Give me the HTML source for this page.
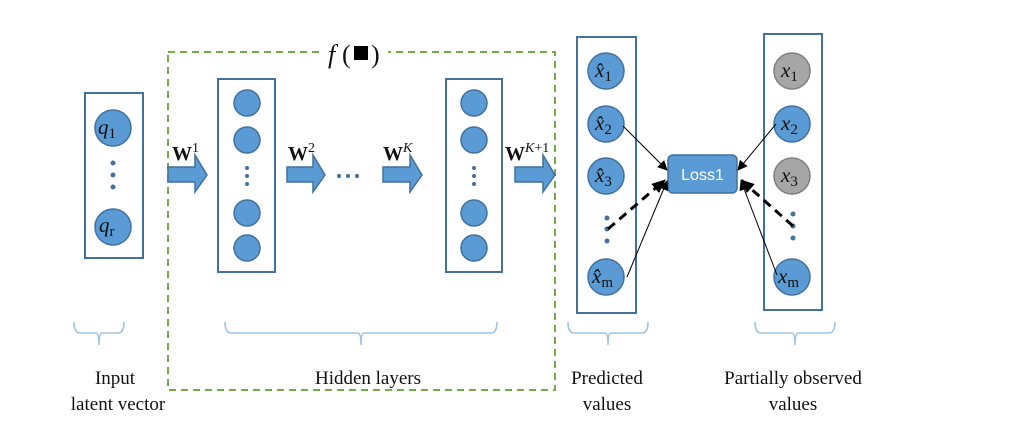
<!DOCTYPE html>
<html><head><meta charset="utf-8"><style>
html,body{margin:0;padding:0;background:#fff;}
svg{display:block;}
.m{font-family:"Liberation Serif",serif;font-style:italic;font-size:21px;fill:#111;}
.s{font-family:"Liberation Serif",serif;font-style:normal;font-size:15px;fill:#111;}
.w{font-family:"Liberation Serif",serif;font-weight:bold;font-size:20px;fill:#111;}
.lab{font-family:"Liberation Serif",serif;font-size:19px;fill:#111;}
</style></head><body>
<svg width="1014" height="430" viewBox="0 0 1014 430" xmlns="http://www.w3.org/2000/svg">
<defs>
<marker id="ah" markerWidth="10" markerHeight="10" refX="9" refY="5" orient="auto" markerUnits="userSpaceOnUse">
<path d="M0,0 L10,5 L0,10 z" fill="#000"/></marker>
<marker id="ah2" markerWidth="14" markerHeight="12" refX="13" refY="6" orient="auto" markerUnits="userSpaceOnUse">
<path d="M0,0 L14,6 L0,12 z" fill="#000"/></marker>
</defs>
<g fill="none" stroke="#41719c" stroke-width="2">
<rect x="85" y="93" width="58" height="165"/>
<rect x="218" y="79" width="57" height="193"/>
<rect x="446" y="79" width="56" height="193"/>
<rect x="577" y="37" width="59" height="276"/>
<rect x="764" y="34" width="58" height="276"/>
</g>
<rect x="168" y="52" width="387" height="338" fill="none" stroke="#70ad47" stroke-width="2" stroke-dasharray="7,5"/>
<rect x="324" y="40" width="64" height="28" fill="#fff"/>
<text x="328" y="63" font-family="Liberation Serif,serif" font-style="italic" font-size="26" fill="#111">f</text>
<text x="342" y="63" font-family="Liberation Serif,serif" font-size="26" fill="#111">(</text>
<rect x="354" y="46" width="14" height="14" fill="#000"/>
<text x="371" y="63" font-family="Liberation Serif,serif" font-size="26" fill="#111">)</text>
<g fill="#5b9bd5" stroke="#41719c" stroke-width="1.5">
<circle cx="113" cy="128" r="18"/><circle cx="113" cy="227" r="18"/>
<circle cx="247" cy="103" r="13"/><circle cx="247" cy="140" r="13"/><circle cx="247" cy="213" r="13"/><circle cx="247" cy="248" r="13"/>
<circle cx="474" cy="103" r="13"/><circle cx="474" cy="140" r="13"/><circle cx="474" cy="213" r="13"/><circle cx="474" cy="248" r="13"/>
<circle cx="606" cy="71" r="18"/><circle cx="606" cy="124" r="18"/><circle cx="606" cy="176" r="18"/><circle cx="606" cy="277" r="18"/>
<circle cx="792" cy="124" r="18"/><circle cx="792" cy="277" r="18"/>
</g>
<g fill="#a6a6a6" stroke="#7f7f7f" stroke-width="1.5">
<circle cx="792" cy="71" r="18"/><circle cx="792" cy="176" r="18"/>
</g>
<g fill="#41719c">
<circle cx="113" cy="163" r="2.5"/><circle cx="113" cy="175" r="2.5"/><circle cx="113" cy="187" r="2.5"/>
<circle cx="247" cy="168" r="2"/><circle cx="247" cy="176" r="2"/><circle cx="247" cy="184" r="2"/>
<circle cx="474" cy="168" r="2"/><circle cx="474" cy="176" r="2"/><circle cx="474" cy="184" r="2"/>
<circle cx="339" cy="176" r="2"/><circle cx="348" cy="176" r="2"/><circle cx="357" cy="176" r="2"/>
<circle cx="607" cy="218" r="2.5"/><circle cx="607" cy="229" r="2.5"/><circle cx="607" cy="241" r="2.5"/>
<circle cx="793" cy="214" r="2.5"/><circle cx="793" cy="226" r="2.5"/><circle cx="793" cy="238" r="2.5"/>
</g>
<text class="m" x="98" y="134">q<tspan class="s" dy="4">1</tspan></text>
<text class="m" x="99" y="232">q<tspan class="s" dy="4">r</tspan></text>
<g class="m">
<text x="595" y="77">x̂<tspan class="s" dy="4">1</tspan></text>
<text x="595" y="130">x̂<tspan class="s" dy="4">2</tspan></text>
<text x="595" y="182">x̂<tspan class="s" dy="4">3</tspan></text>
<text x="592" y="283">x̂<tspan class="s" dy="4">m</tspan></text>
<text x="781" y="77">x<tspan class="s" dy="4">1</tspan></text>
<text x="781" y="130">x<tspan class="s" dy="4">2</tspan></text>
<text x="781" y="182">x<tspan class="s" dy="4">3</tspan></text>
<text x="778" y="283">x<tspan class="s" dy="4">m</tspan></text>
</g>
<g fill="#5b9bd5" stroke="#41719c" stroke-width="1.5">
<path d="M168,167 H195 V155 L207,175 L195,192 V182 H168 Z"/>
<path d="M287,167 H313 V155 L325,175 L313,192 V182 H287 Z"/>
<path d="M383,167 H410 V155 L422,175 L410,192 V182 H383 Z"/>
<path d="M515,167 H543 V155 L555,175 L543,192 V182 H515 Z"/>
</g>
<text class="w" x="172" y="160">W<tspan font-size="14" font-weight="normal" dy="-8">1</tspan></text>
<text class="w" x="288" y="160">W<tspan font-size="14" font-weight="normal" dy="-8">2</tspan></text>
<text class="w" x="383" y="160">W<tspan font-size="14" font-style="italic" font-weight="normal" dy="-8">K</tspan></text>
<text class="w" x="505" y="160">W<tspan font-size="14" font-weight="normal" dy="-8"><tspan font-style="italic">K</tspan>+1</tspan></text>
<rect x="668" y="155" width="69" height="38" rx="5" fill="#5b9bd5" stroke="#41719c" stroke-width="1.5"/>
<text x="702.5" y="180" text-anchor="middle" font-family="Liberation Sans,sans-serif" font-size="16" fill="#fff">Loss1</text>
<g stroke="#000" stroke-width="1">
<line x1="623" y1="126" x2="667" y2="170" marker-end="url(#ah)"/>
<line x1="627" y1="277" x2="667" y2="181" marker-end="url(#ah)"/>
<line x1="776" y1="124" x2="738" y2="170" marker-end="url(#ah)"/>
<line x1="777" y1="275" x2="741" y2="181" marker-end="url(#ah)"/>
</g>
<g stroke="#000" stroke-width="3" stroke-dasharray="9,6">
<line x1="608" y1="229" x2="665" y2="180" marker-end="url(#ah2)"/>
<line x1="793" y1="226" x2="741" y2="180" marker-end="url(#ah2)"/>
</g>
<g fill="none" stroke="#9dc3e6" stroke-width="1.6">
<path d="M74,322 Q74,333 80,333 H96 Q99,333 99,345 Q99,333 102,333 H118 Q124,333 124,322"/>
<path d="M225,322 Q225,333 231,333 H358 Q361,333 361,345 Q361,333 364,333 H491 Q497,333 497,322"/>
<path d="M568,322 Q568,333 574,333 H605 Q608,333 608,345 Q608,333 611,333 H642 Q648,333 648,322"/>
<path d="M755,322 Q755,333 761,333 H792 Q795,333 795,345 Q795,333 798,333 H829 Q835,333 835,322"/>
</g>
<g class="lab" text-anchor="middle">
<text x="115" y="384">Input</text>
<text x="118" y="410">latent vector</text>
<text x="368" y="384">Hidden layers</text>
<text x="607" y="384">Predicted</text>
<text x="607" y="410">values</text>
<text x="793" y="384">Partially observed</text>
<text x="793" y="410">values</text>
</g>
</svg>
</body></html>
